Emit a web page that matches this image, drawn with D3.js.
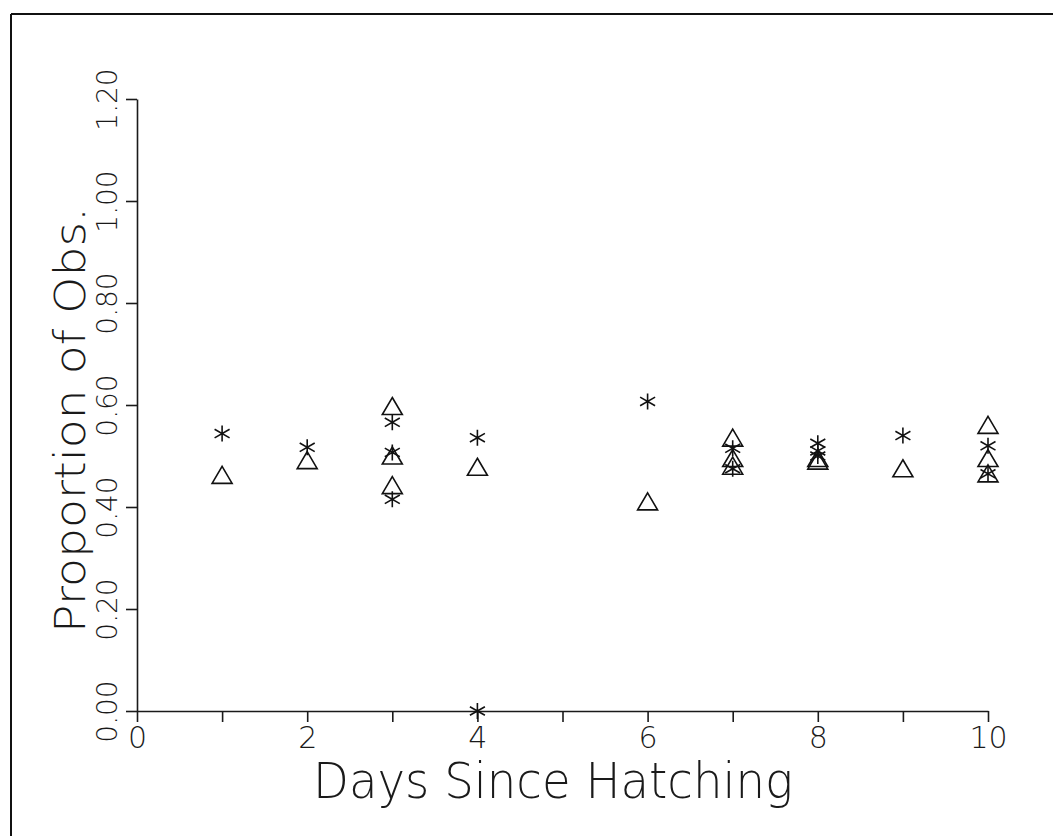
<!DOCTYPE html>
<html lang="en">
<head>
<meta charset="UTF-8">
<title>Proportion of Obs.</title>
<script src="https://cdn.jsdelivr.net/npm/d3@7"></script>
<style>
  body { margin: 0; background: #fff; }
  text { font-family: "DejaVu Sans", sans-serif; font-weight: 200; fill: #1a1a1a; }
</style>
</head>
<body>
<script>
// asterisk series
var starDays = [1, 2, 3, 3, 3, 4, 4, 6, 7, 7, 8, 8, 8, 9, 10, 10];
var starVals = [0.544, 0.517, 0.566, 0.507, 0.415, 0.536, 0.0, 0.607, 0.515, 0.475, 0.525, 0.51, 0.50, 0.54, 0.52, 0.465];
// triangle series
var triDays = [1, 2, 3, 3, 3, 4, 6, 7, 7, 7, 8, 8, 9, 10, 10, 10];
var triVals = [0.462, 0.491, 0.597, 0.50, 0.442, 0.478, 0.41, 0.535, 0.495, 0.48, 0.495, 0.49, 0.475, 0.56, 0.495, 0.465];

var xTicks = [0, 1, 2, 3, 4, 5, 6, 7, 8, 9, 10];
var xLabels = ["0", "", "2", "", "4", "", "6", "", "8", "", "10"];
var yTicks = [0, 0.2, 0.4, 0.6, 0.8, 1.0, 1.2];
var yLabels = ["0.00", "0.20", "0.40", "0.60", "0.80", "1.00", "1.20"];

var w = 1053, h = 836;
var svg = d3.select("body").append("svg")
    .attr("width", w)
    .attr("height", h);

var x = d3.scaleLinear().domain([0, 10]).range([137, 988]);
var y = d3.scaleLinear().domain([0, 1.2]).range([711, 99]);

// outer frame (top and left edges only, as scanned)
svg.append("line").attr("x1", 11).attr("y1", 14).attr("x2", w).attr("y2", 14)
    .attr("stroke", "#111").attr("stroke-width", 2);
svg.append("line").attr("x1", 11).attr("y1", 14).attr("x2", 11).attr("y2", h)
    .attr("stroke", "#111").attr("stroke-width", 2);

// x axis
var gx = svg.append("g")
    .attr("transform", "translate(0," + y(0) + ")")
    .call(d3.axisBottom(x).tickValues(xTicks).tickSize(11).tickSizeOuter(0)
        .tickFormat(function(d, i) { return xLabels[i]; }));
gx.selectAll("text")
    .attr("y", 37).attr("dy", null)
    .style("font-size", "30px");

// y axis
var gy = svg.append("g")
    .attr("transform", "translate(" + x(0) + ",0)")
    .call(d3.axisLeft(y).tickValues(yTicks).tickSize(11).tickSizeOuter(0)
        .tickFormat(function(d, i) { return yLabels[i]; }));
gy.selectAll("text")
    .attr("x", 0).attr("dy", null)
    .attr("text-anchor", "middle")
    .attr("transform", "translate(-20,0) rotate(-90)")
    .style("font-size", "28px");

svg.selectAll(".domain, .tick line")
    .attr("stroke", "#1a1a1a")
    .attr("stroke-width", 1.6);

// axis titles
svg.append("text")
    .attr("x", 553).attr("y", 798)
    .attr("text-anchor", "middle")
    .attr("textLength", 480)
    .attr("lengthAdjust", "spacingAndGlyphs")
    .style("font-size", "50px")
    .text("Days Since Hatching");

svg.append("text")
    .attr("transform", "translate(85,420) rotate(-90)")
    .attr("text-anchor", "middle")
    .attr("textLength", 426)
    .attr("lengthAdjust", "spacingAndGlyphs")
    .style("font-size", "42px")
    .text("Proportion of Obs.");

// markers
var stars = d3.range(starDays.length).map(function(i) { return [starDays[i], starVals[i]]; });
var tris = d3.range(triDays.length).map(function(i) { return [triDays[i], triVals[i]]; });

var starPath = "M0,-8L0,8M-7.5,-4.3L7.5,4.3M-7.5,4.3L7.5,-4.3";
var triPath = "M0,-9L10,8L-10,8Z";

svg.selectAll("path.star")
    .data(stars)
    .enter()
    .append("path")
    .attr("class", "star")
    .attr("d", starPath)
    .attr("transform", function(d) { return "translate(" + x(d[0]) + "," + y(d[1]) + ")"; })
    .attr("fill", "none")
    .attr("stroke", "#111")
    .attr("stroke-width", 1.6);

svg.selectAll("path.tri")
    .data(tris)
    .enter()
    .append("path")
    .attr("class", "tri")
    .attr("d", triPath)
    .attr("transform", function(d) { return "translate(" + x(d[0]) + "," + y(d[1]) + ")"; })
    .attr("fill", "none")
    .attr("stroke", "#111")
    .attr("stroke-width", 1.6);
</script>
</body>
</html>
